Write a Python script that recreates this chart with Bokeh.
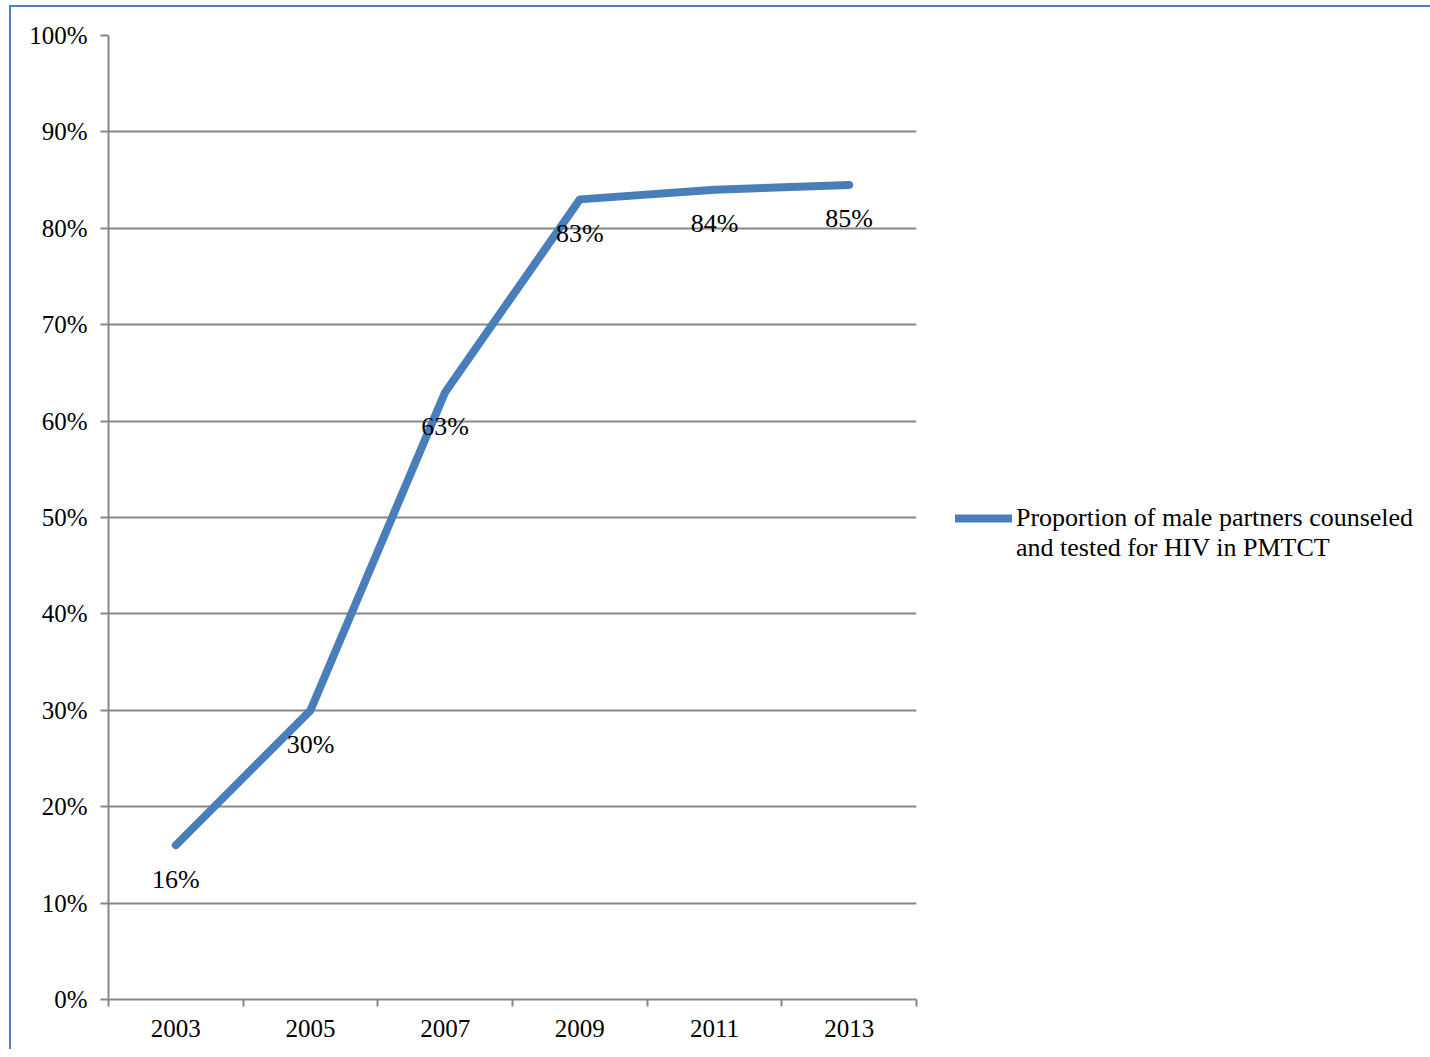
from bokeh.plotting import figure
from bokeh.models import FixedTicker, Legend, LegendItem, ColumnDataSource, Range1d
from bokeh.core.properties import value
from bokeh.embed import file_html
from bokeh.resources import INLINE

years = ["2003", "2005", "2007", "2009", "2011", "2013"]
proportion = [16, 30, 63, 83, 84, 84.5]
point_labels = ["16%", "30%", "63%", "83%", "84%", "85%"]
y_ticks = [0, 10, 20, 30, 40, 50, 60, 70, 80, 90, 100]
series_name_lines = ["Proportion of male partners counseled", "and tested for HIV in PMTCT"]

FONT = "Liberation Serif"
GRAY = "#878787"
BLUE = "#4a7ebb"

xpos = [i + 0.5 for i in range(len(years))]
src = ColumnDataSource(dict(x=xpos, y=proportion, lab=point_labels))

p = figure(frame_width=808, frame_height=964, output_backend="svg", toolbar_location=None,
           x_range=Range1d(0, len(years)), y_range=Range1d(0, 100),
           min_border_left=97, min_border_top=28, min_border_bottom=50, min_border_right=5)
p.styles = {"border-left": "2px solid #4f81bd", "border-top": "2px solid #4f81bd",
            "margin-left": "9px", "margin-top": "5px"}
p.outline_line_color = None
p.background_fill_color = "white"
p.border_fill_color = "white"

line = p.line("x", "y", source=src, line_color=BLUE, line_width=8, line_cap="round", line_join="round")
blank = p.line([], [], line_alpha=0)
p.text("x", "y", text="lab", source=src, text_align="center", text_baseline="middle",
       y_offset=34, text_font=value(FONT), text_font_size="26px", text_color="black")

# y axis
p.yaxis.ticker = FixedTicker(ticks=y_ticks)
p.yaxis.major_label_overrides = {t: f"{t}%" for t in y_ticks}
p.yaxis.axis_line_color = GRAY
p.yaxis.axis_line_width = 2
p.yaxis.major_tick_line_color = GRAY
p.yaxis.major_tick_line_width = 2
p.yaxis.major_tick_out = 8
p.yaxis.major_tick_in = 0
p.yaxis.minor_tick_line_color = None
p.yaxis.major_label_standoff = 13
p.yaxis.major_label_text_font = FONT
p.yaxis.major_label_text_font_size = "25px"
p.yaxis.major_label_text_color = "black"

# x axis
p.xaxis.ticker = FixedTicker(ticks=xpos, minor_ticks=list(range(len(years) + 1)))
p.xaxis.major_label_overrides = {x: y for x, y in zip(xpos, years)}
p.xaxis.axis_line_color = GRAY
p.xaxis.axis_line_width = 2
p.xaxis.major_tick_line_color = None
p.xaxis.major_tick_out = 0
p.xaxis.major_tick_in = 0
p.xaxis.minor_tick_line_color = GRAY
p.xaxis.minor_tick_line_width = 2
p.xaxis.minor_tick_out = 7
p.xaxis.minor_tick_in = 0
p.xaxis.major_label_standoff = 13
p.xaxis.major_label_text_font = FONT
p.xaxis.major_label_text_font_size = "25px"
p.xaxis.major_label_text_color = "black"

p.xgrid.grid_line_color = None
p.ygrid.ticker = FixedTicker(ticks=y_ticks)
p.ygrid.grid_line_color = GRAY
p.ygrid.grid_line_width = 2

legend = Legend(items=[LegendItem(label=series_name_lines[0], renderers=[line]),
                       LegendItem(label=series_name_lines[1], renderers=[blank])],
                location=(39, 436), padding=0, margin=0, spacing=0,
                glyph_width=57, glyph_height=30, label_standoff=4, label_height=30,
                label_text_font=FONT, label_text_font_size="26px", label_text_color="black",
                border_line_color=None, background_fill_alpha=0)
p.add_layout(legend, "right")

open("out.html", "w").write(file_html(p, INLINE))
